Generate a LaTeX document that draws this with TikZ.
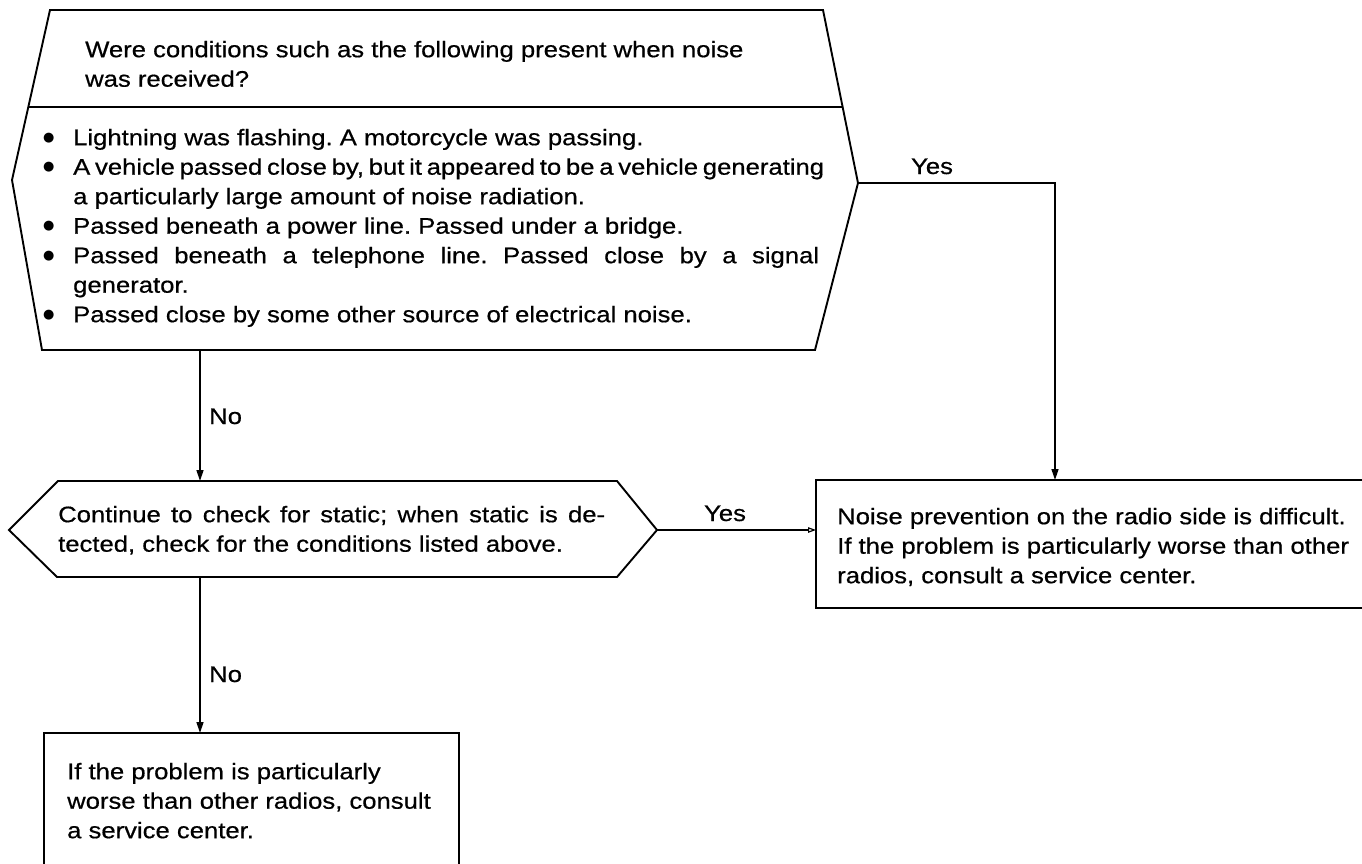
\documentclass[tikz,border=0pt]{standalone}
\usepackage{fontspec}
\setmainfont{Liberation Sans}[FakeStretch=1.14,FakeBold=0.6]
\newfontfamily\symfont{DejaVu Sans}
\usetikzlibrary{arrows.meta}
\frenchspacing
\newcommand\mybul{\makebox[37pt][l]{\hspace*{7pt}\raisebox{4pt}{\symfont\fontsize{13pt}{13pt}\selectfont ●}}}
\newcommand\myind{\hspace*{37pt}}
\newcommand\firstln{\rule{0pt}{17pt}}
\begin{document}
\begin{tikzpicture}[x=1pt,y=-1pt,
  shapeline/.style={line width=1.9pt,line join=miter},
  boxline/.style={line width=2.3pt},
  conn/.style={line width=1.4pt,-{Triangle[length=11pt,width=7pt]}},
  connopen/.style={line width=1.4pt,-{Triangle[open,length=8pt,width=5.5pt,line width=1.2pt]}},
  txt/.style={inner sep=0pt,anchor=north west,align=left,font=\fontsize{22.5pt}{29.5pt}\selectfont},
  lbl/.style={inner sep=0pt,font=\fontsize{22.5pt}{25pt}\selectfont}]
\useasboundingbox (0,0) rectangle (1362,864);
% top hexagon
\coordinate (h1tl) at (50,10);
\coordinate (h1tr) at (823,10);
\coordinate (h1r) at (858,183);
\coordinate (h1br) at (815,350);
\coordinate (h1bl) at (42,350);
\coordinate (h1l) at (12,180);
\coordinate (h1dl) at (28.3,107);
\coordinate (h1dr) at (842.6,107);
\coordinate (h1b) at (200,350);
\draw[shapeline] (h1tl) -- (h1tr) -- (h1r) -- (h1br) -- (h1bl) -- (h1l) -- cycle;
\draw[shapeline] (h1dl) -- (h1dr);
\node[txt] (q1) at (85,40) {\firstln Were conditions such as the following present when noise\\was received?};
\node[txt] (list) at (36,128) {\firstln\mybul Lightning was flashing. A motorcycle was passing.\\
\mybul\makebox[746pt][s]{A vehicle passed close by, but it appeared to be a vehicle generating}\\
\myind a particularly large amount of noise radiation.\\
\mybul Passed beneath a power line. Passed under a bridge.\\
\mybul\makebox[746pt][s]{Passed beneath a telephone line. Passed close by a signal}\\
\myind generator.\\
\mybul Passed close by some other source of electrical noise.};
% second hexagon
\coordinate (h2tl) at (58,481);
\coordinate (h2tr) at (617,481);
\coordinate (h2r) at (657,530);
\coordinate (h2br) at (617,577);
\coordinate (h2bl) at (57,577);
\coordinate (h2l) at (9,530);
\coordinate (h2t) at (200,481);
\coordinate (h2b) at (200,577);
\draw[shapeline] (h2tl) -- (h2tr) -- (h2r) -- (h2br) -- (h2bl) -- (h2l) -- cycle;
\node[txt] (q2) at (58,505) {\firstln\makebox[547pt][s]{Continue to check for static; when static is de-}\\tected, check for the conditions listed above.};
% result boxes (cut off by the page edge)
\coordinate (rbl) at (816,530);
\coordinate (rbt) at (1055,480);
\coordinate (bbt) at (200,733);
\begin{scope}
\clip (0,0) rectangle (1362,864);
\draw[boxline] (816,480) rectangle (1400,608);
\draw[boxline] (44,733) rectangle (459,900);
\end{scope}
\node[txt] (r1) at (837,507) {\firstln Noise prevention on the radio side is difficult.\\If the problem is particularly worse than other\\radios, consult a service center.};
\node[txt] (r2) at (67,762) {\firstln If the problem is particularly\\worse than other radios, consult\\a service center.};
% connectors
\coordinate (ycorner) at (1055,183);
\draw[conn] (h1r) -- (ycorner) -- (rbt);
\draw[conn] (h1b) -- (h2t);
\draw[connopen] (h2r) -- (rbl);
\draw[conn] (h2b) -- (bbt);
\node[lbl,anchor=base] (yes1) at (932,174) {Yes};
\node[lbl,anchor=base] (yes2) at (725,521) {Yes};
\node[lbl,anchor=base west] (no1) at (209,424) {No};
\node[lbl,anchor=base west] (no2) at (209,682) {No};
\end{tikzpicture}
\end{document}
